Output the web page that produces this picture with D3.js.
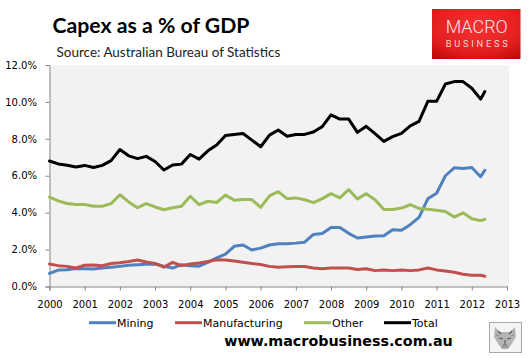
<!DOCTYPE html>
<html><head><meta charset="utf-8">
<script src="https://cdn.jsdelivr.net/npm/d3@7"></script>
<style>body{margin:0;background:#fff}svg{display:block}</style>
</head><body><svg id="c" width="531" height="358"></svg>
<script>
// ---- data ----
const yearTicks = d3.range(2000, 2014);            // x tick labels
const pctTicks = [0, 2, 4, 6, 8, 10, 12];          // y tick values (%)
// quarterly observations from 2000 Q1, plus a final partial reading
const dates = d3.range(50).map(i => 2000 + i / 4).concat([2012.37]);
const mining = [0.71,0.89,0.91,0.98,0.96,0.95,1.0,1.04,1.09,1.15,
  1.18,1.2,1.22,1.1,1.0,1.18,1.13,1.1,1.31,1.55,
  1.76,2.18,2.25,1.98,2.08,2.25,2.31,2.32,2.35,2.4,
  2.82,2.87,3.2,3.2,2.88,2.63,2.68,2.73,2.75,3.08,
  3.05,3.35,3.75,4.75,5.05,6.0,6.43,6.39,6.45,5.95,6.3];
const manufacturing = [1.22,1.13,1.09,1.0,1.15,1.16,1.13,1.25,1.29,1.35,
  1.44,1.33,1.25,1.05,1.31,1.13,1.22,1.27,1.35,1.45,
  1.44,1.38,1.31,1.25,1.19,1.09,1.04,1.07,1.08,1.08,
  1.0,0.96,1.0,1.0,1.0,0.92,0.96,0.86,0.9,0.86,
  0.9,0.86,0.9,1.0,0.9,0.84,0.77,0.66,0.61,0.61,0.56];
const other = [4.84,4.64,4.5,4.44,4.44,4.35,4.35,4.49,4.97,4.58,
  4.27,4.49,4.31,4.16,4.27,4.35,4.89,4.44,4.62,4.55,
  4.95,4.67,4.71,4.71,4.29,4.91,5.14,4.76,4.8,4.7,
  4.54,4.76,5.03,4.8,5.25,4.74,5.03,4.7,4.17,4.17,
  4.25,4.43,4.23,4.18,4.13,4.06,3.76,3.99,3.67,3.57,3.64];
const total = [6.8,6.64,6.57,6.47,6.56,6.45,6.56,6.82,7.42,7.08,
  6.93,7.05,6.77,6.31,6.58,6.63,7.15,6.9,7.35,7.66,
  8.18,8.23,8.29,7.93,7.57,8.2,8.48,8.14,8.23,8.24,
  8.37,8.66,9.3,9.07,9.07,8.35,8.68,8.28,7.86,8.12,
  8.3,8.7,8.95,10.03,10.03,10.97,11.1,11.1,10.74,10.15,10.56];
const seriesNames = ["Mining", "Manufacturing", "Other", "Total"];
const seriesValues = [mining, manufacturing, other, total];
const seriesColors = ["#4f81bd", "#c0504d", "#9bbb59", "#000000"];

// ---- layout ----
const svg = d3.select("#c");
const plot = {l: 49.5, r: 509, t: 65, b: 286.5};
const x = d3.scaleLinear().domain([2000, 2013]).range([plot.l, 507]);
const y = d3.scaleLinear().domain([0, 12]).range([plot.b, plot.t]);

// title
function fitText(sel, w) {
  const n = sel.node().getComputedTextLength();
  const fs = parseFloat(sel.attr("font-size"));
  sel.attr("font-size", fs * w / n);
}
const title = svg.append("text").attr("x", 52.5).attr("y", 33.3)
  .attr("font-family", "Lato").attr("font-weight", 700).attr("font-size", 21)
  .attr("fill", "#000").text("Capex as a % of GDP");
fitText(title, 197);
const src = svg.append("text").attr("x", 56.5).attr("y", 57.3)
  .attr("font-family", "Lato").attr("font-size", 12.5)
  .attr("fill", "#222").text("Source: Australian Bureau of Statistics");
fitText(src, 224);

// logo
const defs = svg.append("defs");
const rg = defs.append("radialGradient").attr("id", "lg").attr("cx", "50%").attr("cy", "35%").attr("r", "75%");
rg.append("stop").attr("offset", "0%").attr("stop-color", "#f63232");
rg.append("stop").attr("offset", "70%").attr("stop-color", "#e21e1e");
rg.append("stop").attr("offset", "100%").attr("stop-color", "#c20c0c");
svg.append("rect").attr("x", 432).attr("y", 9).attr("width", 88.5).attr("height", 50).attr("fill", "url(#lg)");
svg.append("text").attr("x", 445.7).attr("y", 33.3).attr("font-family", "Roboto").attr("font-weight", 300)
  .attr("font-size", 17.5).attr("fill", "#f6e2e2").attr("textLength", 62).attr("lengthAdjust", "spacingAndGlyphs").text("MACRO");
svg.append("text").attr("x", 445.7).attr("y", 46.8).attr("font-family", "Roboto").attr("font-weight", 400)
  .attr("font-size", 9.3).attr("fill", "#f3d6d6").attr("textLength", 62).attr("lengthAdjust", "spacing").text("BUSINESS");

// plot background
svg.append("rect").attr("x", plot.l).attr("y", plot.t).attr("width", plot.r - plot.l).attr("height", plot.b - plot.t).attr("fill", "#f2f2f2");

// axes
const axisColor = "#868686";
const yAxis = svg.append("g").attr("transform", `translate(${plot.l},0)`)
  .call(d3.axisLeft(y).tickValues(pctTicks).tickSize(4).tickFormat(d => d.toFixed(1) + "%"));
const xAxis = svg.append("g").attr("transform", `translate(0,${plot.b})`)
  .call(d3.axisBottom(x).tickValues(yearTicks).tickSize(4).tickFormat(d3.format("d")));
[yAxis, xAxis].forEach(g => {
  g.select(".domain").attr("stroke", axisColor);
  g.selectAll(".tick line").attr("stroke", axisColor);
  g.selectAll("text").attr("font-family", "DejaVu Sans").attr("font-size", 10).attr("fill", "#000");
});
yAxis.selectAll("text").attr("x", -12.5);
xAxis.selectAll("text").attr("y", 14.5);

// lines
const line = d3.line().x((d, i) => x(dates[i])).y(d => y(d));
seriesValues.forEach((vals, k) => {
  svg.append("path").datum(vals).attr("d", line).attr("fill", "none")
    .attr("stroke", seriesColors[k]).attr("stroke-width", 3).attr("stroke-linejoin", "round").attr("stroke-linecap", "round");
});

// legend
const legX = [89, 175, 304, 384];
const lg = svg.append("g");
seriesNames.forEach((n, k) => {
  lg.append("line").attr("x1", legX[k]).attr("x2", legX[k] + 27).attr("y1", 322.7).attr("y2", 322.7)
    .attr("stroke", seriesColors[k]).attr("stroke-width", 3);
  lg.append("text").attr("x", legX[k] + 28).attr("y", 326.7).attr("font-family", "DejaVu Sans")
    .attr("font-size", 11).attr("fill", "#000").text(n);
});

// footer
svg.append("text").attr("x", 338.5).attr("y", 346).attr("text-anchor", "middle")
  .attr("font-family", "DejaVu Sans").attr("font-weight", 700).attr("font-size", 14.3)
  .attr("fill", "#000").text("www.macrobusiness.com.au");

// wolf icon (small grey emblem)
const w = svg.append("g").attr("transform", "translate(489,322)");
w.append("rect").attr("x", 0.5).attr("y", 0.5).attr("width", 32).attr("height", 30).attr("fill", "#f4f4f4").attr("stroke", "#a8a8a8");
w.append("path").attr("d", "M6,5 L11,10 L21,10 L26,5 L27,15 L22,23 L19,27 L13,27 L10,23 L5,15 Z").attr("fill", "#b4b4b4");
w.append("path").attr("d", "M9,9 L12,12 M23,9 L20,12 M10,16 L14,17 M22,16 L18,17 M14,23 L18,23 M16,18 L16,22")
  .attr("stroke", "#5a5a5a").attr("stroke-width", 1.1).attr("fill", "none");
w.append("path").attr("d", "M7,13 L10,14 M25,13 L22,14 M12,25 L20,25").attr("stroke", "#808080").attr("stroke-width", 0.8);
</script></body></html>
